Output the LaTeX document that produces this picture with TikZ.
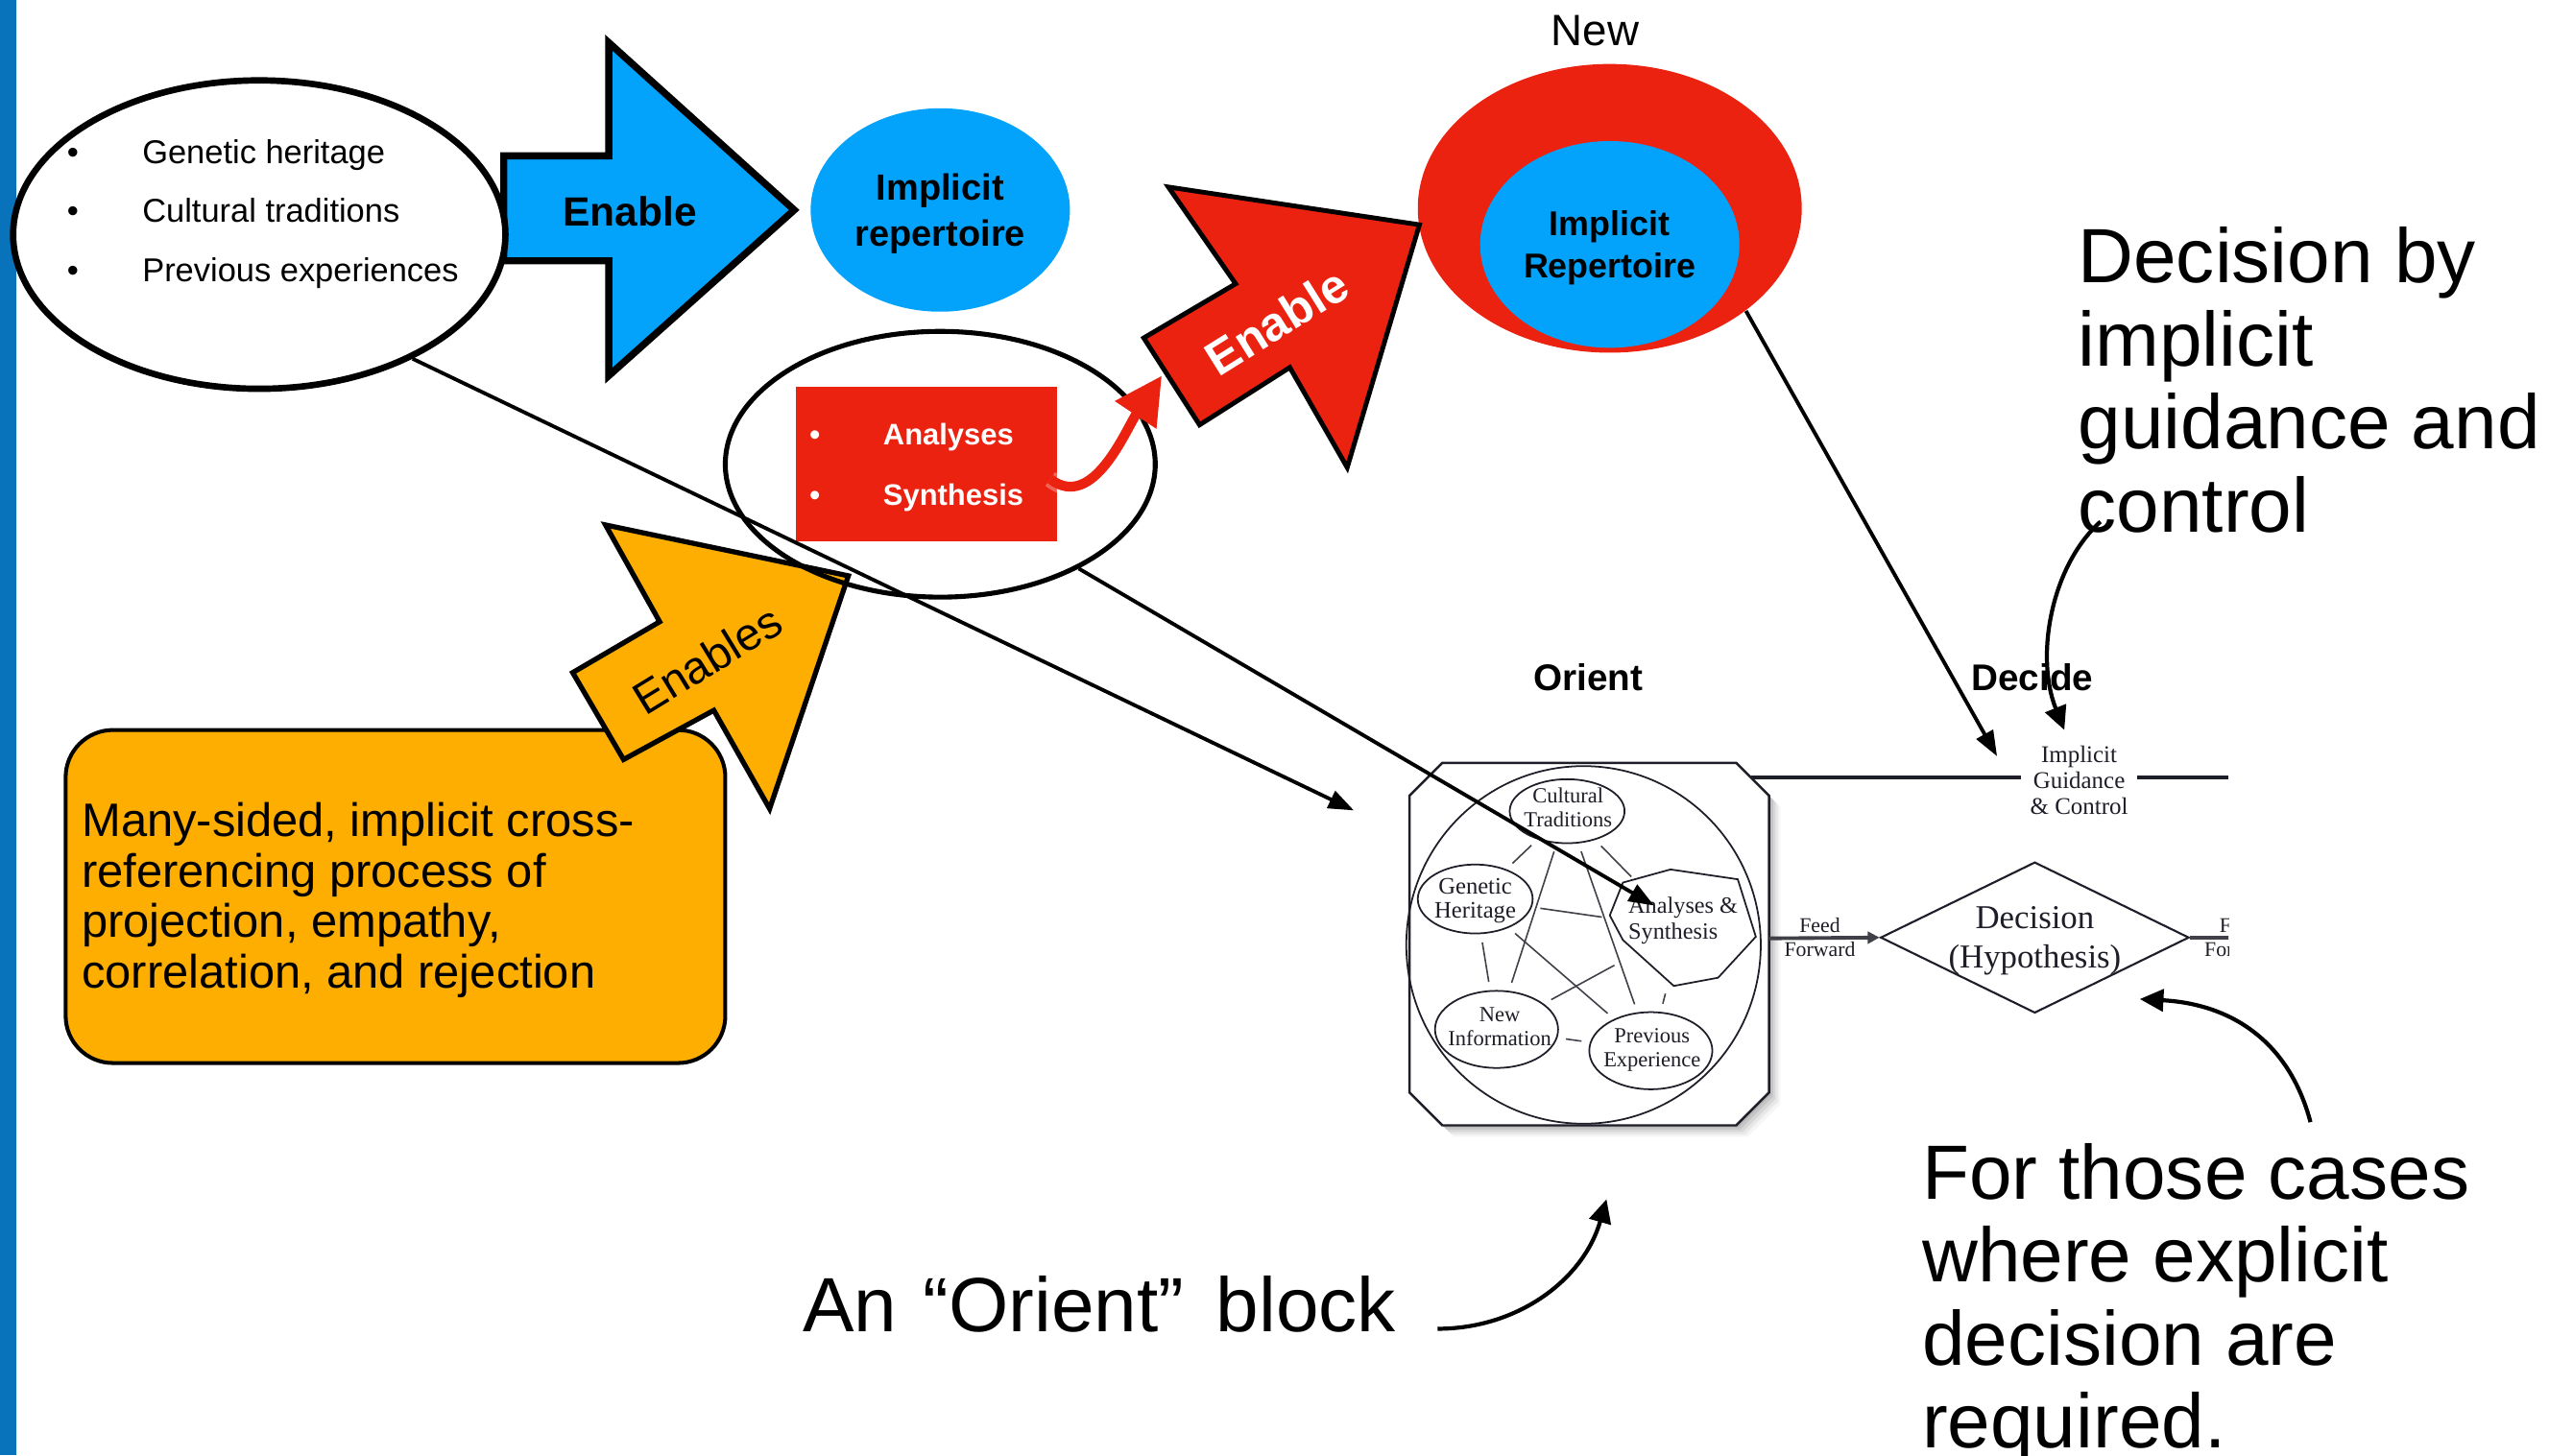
\documentclass[tikz,border=0pt]{standalone}
\usepackage{fontspec}
\setmainfont{Liberation Sans}
\newfontfamily\timesfont{Liberation Serif}
\usetikzlibrary{shapes.geometric,arrows.meta}

% one drawing unit in lengths
\newdimen\spx \spx=0.17092mm
\newcommand\fsz[2]{\fontsize{#1}{#2}\selectfont}

\definecolor{barblue}{RGB}{8,114,186}
\definecolor{skyblue}{RGB}{3,163,252}
\definecolor{alertred}{RGB}{236,34,16}
\definecolor{amber}{RGB}{253,174,0}
\definecolor{ink}{RGB}{30,30,40}

\begin{document}
\begin{tikzpicture}[x=0.17092mm, y=-0.17092mm,
  oval/.style={ellipse, inner sep=0pt},
  bubble/.style={ellipse, draw=ink, line width=0.5pt, inner sep=0pt},
  web/.style={draw=ink!85, line width=0.45pt, shorten <=2.5pt, shorten >=2.5pt},
  tiny/.style={font=\timesfont\fsz{6.4}{7.1}, text=ink, align=center, inner sep=0pt},
  link/.style={line width=1.1pt, -{Triangle[length=7.5pt,width=5.5pt]}},
  note/.style={line width=1.2pt, -{Triangle[length=7pt,width=6.5pt]}},
  blocktext/.style={anchor=north west, align=left, inner sep=0pt, font=\fsz{22.8}{24.6}}
]
\fill[white] (0,0) rectangle (1568,887);
\useasboundingbox (0,0) rectangle (1568,887);
\fill[barblue] (0,0) rectangle (10,887);

% ---- sources of the implicit repertoire
\filldraw[fill=skyblue, draw=black, line width=2.1pt]
  (307,95) -- (371,95) -- (371,26) -- (484,128) -- (371,229) -- (371,159) -- (307,159) -- cycle;
\node[oval, draw, fill=white, line width=1.9pt, minimum width=300\spx, minimum height=188\spx] (roots) at (158,143) {};
\node[anchor=west, align=left, inner sep=0pt, font=\fsz{9.8}{17.6}] (rootlist) at (40.5,130.5)
  {\makebox[22.3pt][l]{•}Genetic heritage\\
   \makebox[22.3pt][l]{•}Cultural traditions\\
   \makebox[22.3pt][l]{•}Previous experiences};
\node[font=\bfseries\fsz{12.1}{14}] (enableA) at (384,129) {Enable};

\node[oval, fill=skyblue, minimum width=158\spx, minimum height=124\spx] (rep) at (573,128) {};
\node[align=center, inner sep=0pt, font=\bfseries\fsz{10.8}{13.6}] (reptext) at (573,130.5) {Implicit\\repertoire};

% ---- new repertoire
\node[anchor=base, font=\fsz{13}{15}] (newlbl) at (972,28) {New};
\node[oval, fill=alertred, minimum width=234\spx, minimum height=176\spx] (newrep) at (981,127) {};
\node[oval, fill=skyblue, minimum width=158\spx, minimum height=126\spx] (newcore) at (981,149) {};
\node[align=center, inner sep=0pt, font=\bfseries\fsz{10.2}{12.6}] (newcoretext) at (981,151) {Implicit\\Repertoire};

% ---- cross-referencing box
\node[draw, fill=amber, line width=1.15pt, rounded corners=14pt, minimum width=402\spx,
      minimum height=203\spx] (crossbox) at (241,546.5) {};
\node[anchor=north west, align=left, inner sep=0pt, font=\fsz{13.9}{14.9}] (crosstext) at (49.5,489)
  {Many-sided, implicit cross-\\referencing process of\\projection, empathy,\\correlation, and rejection};
\filldraw[fill=amber, draw=black, line width=1.5pt]
  (349,410) -- (402,379) -- (369,320) -- (517,351) -- (469,493) -- (435,433) -- (380,463) -- cycle;
\node[rotate=31.5, font=\fsz{13.5}{15}] (enables) at (431,402) {Enables};

% ---- analyses & synthesis
\node[rectangle, fill=alertred, minimum width=159\spx, minimum height=94\spx, inner sep=0pt] (asbox) at (564.5,283) {};
\node[anchor=west, align=left, inner sep=0pt, text=white, font=\bfseries\fsz{8.8}{17.9}] (aslist) at (493,285)
  {\makebox[21.8pt][l]{•}Analyses\\ \makebox[21.8pt][l]{•}Synthesis};
\node[oval, draw, line width=1.45pt, minimum width=262\spx, minimum height=162\spx] (asring) at (573,283) {};

\coordinate (asout) at (640,292);
\coordinate (redtail) at (708,229);
\draw[white, opacity=0.3, line width=5pt] (asout) .. controls (666,312) and (684,268) .. (694,248);
\draw[alertred, line width=2.9pt, -{Triangle[length=14pt,width=14pt]}]
  (asout) .. controls (666,312) and (686,262) .. (redtail);

\filldraw[fill=alertred, draw=black, line width=1.4pt]
  (697,206) -- (753,173) -- (712,114) -- (865,137) -- (821,285) -- (786,224) -- (731,259) -- cycle;
\node[rotate=32, text=white, font=\bfseries\fsz{14.2}{16}] (enableB) at (778,196) {Enable};

% ---- orient block
\foreach \d/\o in {7/0.04,5.5/0.05,4/0.07,2.5/0.08,1.2/0.09}
  \fill[black, opacity=\o, shift={(\d,\d)}]
    (879,465) -- (1058,465) -- (1078,485) -- (1078,666) -- (1058,686) -- (879,686) -- (859,666) -- (859,485) -- cycle;
\filldraw[fill=white, draw=ink, line width=0.7pt]
  (879,465) -- (1058,465) -- (1078,485) -- (1078,666) -- (1058,686) -- (879,686) -- (859,666) -- (859,485) -- cycle;
\node[bubble, minimum width=216\spx, minimum height=218\spx] (orbit) at (965,576) {};
\node[bubble, minimum width=70\spx, minimum height=39\spx] (ct) at (955,494.5) {};
\node[bubble, minimum width=70\spx, minimum height=42\spx] (gh) at (899,548) {};
\node[bubble, minimum width=75\spx, minimum height=47\spx] (ni) at (912,627.5) {};
\node[bubble, minimum width=75\spx, minimum height=47\spx] (pe) at (1006,640.5) {};
\node[oval, minimum width=88\spx, minimum height=70\spx] (as) at (1025,566) {};
\draw[ink, line width=0.5pt]
  (989,538) -- (1018,530) -- (1059,536) -- (1070,571) -- (1047,596) -- (1020,601) -- (989,573) -- (981,558) -- cycle;
\foreach \a/\b in {ct/gh, ct/as, ct/ni, ct/pe, gh/as, gh/ni, gh/pe, ni/as, ni/pe, as/pe}
  \draw[web] (\a) -- (\b);
\node[tiny] (ctt) at (955.6,492.4) {Cultural\\Traditions};
\node[tiny, font=\timesfont\fsz{7}{7.1}] (ght) at (899,549.2) {Genetic\\Heritage};
\node[tiny] (nit) at (914,626) {New\\Information};
\node[tiny] (pet) at (1006.8,640.2) {Previous\\Experience};
\node[tiny, align=left, anchor=west, font=\timesfont\fsz{6.9}{7.6}] (ast) at (992,561.3) {Analyses \&\\Synthesis};

\node[anchor=base, font=\bfseries\fsz{11}{13}] (orientlbl) at (968,421) {Orient};
\node[anchor=base, font=\bfseries\fsz{11}{13}] (decidelbl) at (1238.5,421) {Decide};

% guidance line
\node[tiny, font=\timesfont\fsz{7.1}{7.75}, inner sep=2.5pt] (igc) at (1267,475.5) {Implicit\\Guidance\\\& Control};
\coordinate (orbNE) at (1067,474);
\coordinate (edgeR) at (1358,474);
\draw[ink, line width=1.1pt] (orbNE) -- (orbNE -| igc.west);
\draw[ink, line width=1.1pt] (igc.east |- orbNE) -- (edgeR);

% decision diamond
\node[diamond, draw=ink, line width=0.6pt, minimum width=188\spx, minimum height=92\spx, inner sep=0pt] (hyp) at (1240,571.5) {};
\node[font=\timesfont\fsz{9.9}{11.4}, align=center, text=ink, inner sep=0pt] (hyptext) at (1240,573.5) {Decision\\(Hypothesis)};
\coordinate (orbE) at (1078,572);
\draw[ink!85, line width=1.1pt, -{Triangle[length=3.5pt,width=3.5pt]}] (orbE) -- (hyp.west);
\node[tiny, font=\timesfont\fsz{6.2}{7}, anchor=base] (ffa) at (1109,568.5) {Feed};
\node[tiny, font=\timesfont\fsz{6.2}{7}, anchor=base] (ffb) at (1109,583) {Forward};
\begin{scope}
  \clip (1300,540) rectangle (1358,600);
  \draw[ink!85, line width=1.1pt] (hyp.east) -- ++(40,0);
  \node[tiny, font=\timesfont\fsz{6.2}{7}, anchor=base] (ffc) at (1365,568.5) {Feed};
  \node[tiny, font=\timesfont\fsz{6.2}{7}, anchor=base] (ffd) at (1365,583) {Forward};
\end{scope}

% ---- long links
\coordinate (tipA) at (825,494);
\coordinate (tipB) at (1008,552);
\coordinate (tipC) at (1217,461);
\draw[link] (roots.-39) -- (tipA);
\draw[link] (asring.-37) -- (tipB);
\draw[link] (newrep.-37.5) -- (tipC);

% ---- annotations
\node[blocktext] (bydec) at (1266,138) {Decision by\\implicit\\guidance and\\control};
\node[blocktext] (explicit) at (1171,696.5) {For those cases\\where explicit\\decision are\\required.};
\node[anchor=base west, inner sep=0pt, font=\fsz{22.8}{24.6}] (orienttag) at (489,812)
  {An\hspace{0.34em}“Orient”\hspace{0.42em}block};

\coordinate (n1a) at (1280,318);
\coordinate (n1b) at (1258,445);
\draw[note] (n1a) .. controls (1250,345) and (1240,400) .. (n1b);
\coordinate (n2a) at (1408,684);
\coordinate (n2b) at (1304,609);
\draw[note] (n2a) .. controls (1395,635) and (1360,612) .. (n2b);
\coordinate (n3a) at (876,810);
\coordinate (n3b) at (979,731);
\draw[note] (n3a) .. controls (925,810) and (965,780) .. (n3b);
\end{tikzpicture}
\end{document}
